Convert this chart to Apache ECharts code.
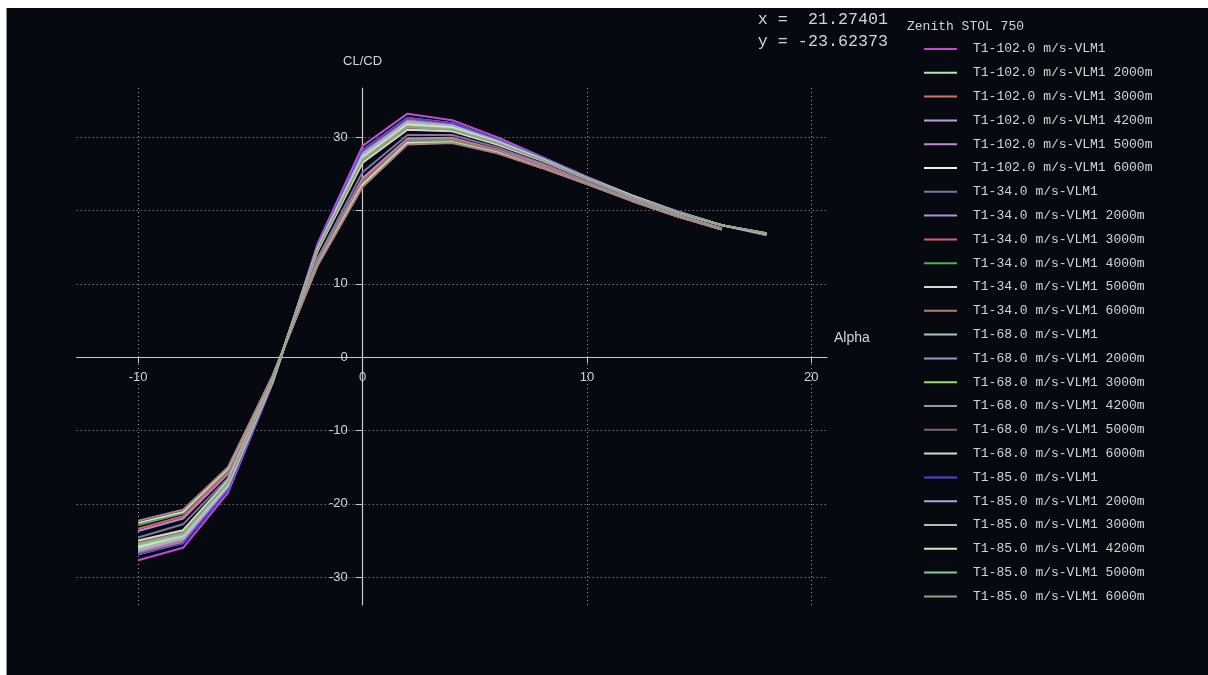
<!DOCTYPE html>
<html>
<head>
<meta charset="utf-8">
<script src="https://cdn.jsdelivr.net/npm/echarts@6/dist/echarts.min.js"></script>
<style>
  html, body { margin: 0; padding: 0; background: #ffffff; }
  #frame { position: absolute; left: 6px; top: 8px; width: 1202px; height: 667px; background: #060a10; border-left: 1px solid #8c9196; }
  #chart { position: absolute; left: 1px; top: 0; width: 1201px; height: 667px; }
</style>
</head>
<body>
<div id="frame"><div id="chart"></div></div>
<script>
// ---- data ----
const alpha = [-10, -8, -6, -4, -2, 0, 2, 4, 6, 8, 10, 12, 14, 16, 18];

const names102 = ["T1-102.0 m/s-VLM1", "T1-102.0 m/s-VLM1 2000m", "T1-102.0 m/s-VLM1 3000m", "T1-102.0 m/s-VLM1 4200m", "T1-102.0 m/s-VLM1 5000m", "T1-102.0 m/s-VLM1 6000m"];
const names34 = ["T1-34.0 m/s-VLM1", "T1-34.0 m/s-VLM1 2000m", "T1-34.0 m/s-VLM1 3000m", "T1-34.0 m/s-VLM1 4000m", "T1-34.0 m/s-VLM1 5000m", "T1-34.0 m/s-VLM1 6000m"];
const names68 = ["T1-68.0 m/s-VLM1", "T1-68.0 m/s-VLM1 2000m", "T1-68.0 m/s-VLM1 3000m", "T1-68.0 m/s-VLM1 4200m", "T1-68.0 m/s-VLM1 5000m", "T1-68.0 m/s-VLM1 6000m"];
const names85 = ["T1-85.0 m/s-VLM1", "T1-85.0 m/s-VLM1 2000m", "T1-85.0 m/s-VLM1 3000m", "T1-85.0 m/s-VLM1 4200m", "T1-85.0 m/s-VLM1 5000m", "T1-85.0 m/s-VLM1 6000m"];

const v102 = [
  [-27.7, -26.0, -18.5, -3.5, 15.5, 28.8, 33.2, 32.3, 30.0, 27.3, 24.6, 22.1, 19.9, 18.0, 16.6],
  [-26.9, -25.3, -18.0, -3.4, 15.2, 28.2, 32.6, 31.9, 29.7, 27.2, 24.5, 22.0, 19.9, 18.0, 16.7],
  [-26.6, -25.1, -17.8, -3.3, 15.1, 27.9, 32.3, 31.7, 29.6, 27.1, 24.5, 22.0, 19.9, 18.0, 16.7],
  [-26.3, -24.8, -17.6, -3.2, 15.0, 27.6, 32.1, 31.5, 29.5, 27.0, 24.4, 22.0, 19.8, 18.0, 16.8],
  [-26.1, -24.5, -17.5, -3.2, 14.9, 27.4, 31.9, 31.4, 29.4, 27.0, 24.4, 22.0, 19.8, 18.0, 16.8],
  [-25.8, -24.3, -17.3, -3.2, 14.8, 27.2, 31.7, 31.3, 29.3, 27.0, 24.4, 22.0, 19.8, 18.0, 16.8]
];
const v34 = [
  [-24.6, -22.8, -16.5, -2.8, 13.5, 25.2, 30.3, 30.3, 28.6, 26.4, 24.0, 21.6, 19.5, 17.6],
  [-23.7, -22.0, -15.9, -2.7, 13.1, 24.4, 29.8, 29.9, 28.3, 26.2, 23.8, 21.5, 19.4, 17.5],
  [-23.4, -21.7, -15.7, -2.6, 13.0, 24.1, 29.6, 29.7, 28.2, 26.1, 23.8, 21.4, 19.3, 17.5],
  [-22.9, -21.3, -15.4, -2.6, 12.8, 23.7, 29.4, 29.5, 28.0, 25.9, 23.7, 21.4, 19.3, 17.5],
  [-22.6, -21.1, -15.2, -2.5, 12.6, 23.5, 29.2, 29.3, 27.9, 25.8, 23.6, 21.3, 19.2, 17.4],
  [-22.3, -20.8, -15.0, -2.5, 12.5, 23.2, 29.0, 29.2, 27.8, 25.8, 23.6, 21.3, 19.2, 17.4]
];
const v68 = [
  [-26.3, -24.7, -17.6, -3.2, 15.0, 27.6, 32.0, 31.5, 29.5, 27.0, 24.4, 22.0, 19.8, 18.0, 16.8],
  [-25.8, -24.3, -17.3, -3.1, 14.8, 27.1, 31.6, 31.2, 29.3, 26.9, 24.4, 21.9, 19.8, 18.0, 16.8],
  [-25.5, -24.1, -17.1, -3.1, 14.7, 27.0, 31.4, 31.1, 29.2, 26.9, 24.4, 21.9, 19.8, 18.0, 16.8],
  [-25.3, -23.9, -17.0, -3.1, 14.6, 26.8, 31.3, 31.0, 29.1, 26.9, 24.3, 21.9, 19.8, 18.0, 16.9],
  [-25.2, -23.7, -16.9, -3.0, 14.6, 26.6, 31.1, 30.9, 29.1, 26.8, 24.3, 21.9, 19.8, 18.0, 16.9],
  [-25.0, -23.6, -16.8, -3.0, 14.5, 26.5, 31.0, 30.8, 29.0, 26.8, 24.3, 21.9, 19.8, 18.0, 16.9]
];
const v85 = [
  [-26.9, -25.4, -18.1, -3.4, 15.2, 28.2, 32.6, 31.9, 29.7, 27.2, 24.5, 22.0, 19.9, 18.0, 16.7],
  [-26.4, -24.8, -17.7, -3.3, 15.0, 27.7, 32.1, 31.6, 29.5, 27.1, 24.4, 22.0, 19.8, 18.0, 16.8],
  [-26.1, -24.6, -17.5, -3.2, 14.9, 27.4, 31.9, 31.4, 29.4, 27.0, 24.4, 22.0, 19.8, 18.0, 16.8],
  [-25.9, -24.3, -17.3, -3.2, 14.8, 27.2, 31.7, 31.3, 29.3, 27.0, 24.4, 22.0, 19.8, 18.0, 16.8],
  [-25.6, -24.2, -17.2, -3.1, 14.7, 27.0, 31.5, 31.1, 29.2, 26.9, 24.4, 21.9, 19.8, 18.0, 16.8],
  [-25.4, -24.0, -17.1, -3.1, 14.7, 26.9, 31.4, 31.0, 29.2, 26.9, 24.3, 21.9, 19.8, 18.0, 16.9]
];

const colors102 = ["#c848d0", "#b0e8b0", "#c87860", "#b8a0d8", "#c088d0", "#e8f4e8"];
const colors34 = ["#7878a0", "#b090d8", "#e05878", "#50b050", "#d8d8d8", "#a88088"];
const colors68 = ["#a8c8c0", "#9898c8", "#90e070", "#989898", "#806068", "#d8d8c8"];
const colors85 = ["#4848e0", "#a8a8e0", "#b8b8b8", "#d8e8b8", "#80c8a0", "#98a088"];

const xTicks = [-10, 0, 10, 20];
const yTicks = [-30, -20, -10, 0, 10, 20, 30];
const yLabels = [-30, -20, -10, 0, 10, 30];

const plotTitle = "Zenith STOL 750";
const cursorText = "x =  21.27401\ny = -23.62373";

// ---- build ----
const groups = [
  [names102, v102, colors102],
  [names34, v34, colors34],
  [names68, v68, colors68],
  [names85, v85, colors85]
];
const series = [];
const legendNames = [];
groups.forEach(([nm, vals, cols]) => {
  nm.forEach((n, i) => {
    legendNames.push(n);
    series.push({
      name: n,
      type: 'line',
      symbol: 'none',
      animation: false,
      color: cols[i],
      lineStyle: { color: cols[i], width: 2 },
      data: vals[i].map((v, k) => [alpha[k], v])
    });
  });
});

// axis-zero offsets (labels kept beside the crossing axes)
const gridBox = { left: 68.7, right: 382, top: 80, bottom: 70 };
const yAxisOffsetFromLeft = 354.8 - 68.7;   // distance grid-left -> x=0 line
const xAxisOffsetFromBottom = 597 - 349;    // distance grid-bottom -> y=0 line

const txt = '#d2d4d6';
const chart = echarts.init(document.getElementById('chart'), null, { renderer: 'canvas' });
chart.setOption({
  backgroundColor: '#060a10',
  animation: false,
  title: [
    { text: cursorText, right: 321, top: 1, padding: 0, textStyle: { color: txt, fontFamily: 'Liberation Mono', fontSize: 16.7, fontWeight: 'normal', lineHeight: 22 } },
    { text: plotTitle, left: 894, top: 7, textStyle: { color: txt, fontFamily: 'Liberation Mono', fontSize: 13, fontWeight: 'normal' } }
  ],
  legend: {
    data: legendNames,
    orient: 'vertical',
    left: 911,
    top: 29,
    icon: 'rect',
    itemWidth: 33,
    itemHeight: 2,
    itemGap: 9.8,
    selectedMode: false,
    textStyle: { color: txt, fontFamily: 'Liberation Mono', fontSize: 13, lineHeight: 14, padding: [0, 0, 0, 11] }
  },
  grid: Object.assign({ containLabel: false }, gridBox),
  xAxis: {
    type: 'value',
    min: -12.74, max: 20.7,
    splitNumber: 3,
    name: 'Alpha',
    nameLocation: 'end',
    nameGap: 7,
    nameTextStyle: { color: txt, fontFamily: 'Liberation Sans', fontSize: 14, align: 'left', verticalAlign: 'bottom', padding: [0, 0, 12, 0] },
    axisLine: { onZero: true, lineStyle: { color: '#c8cacc', width: 1.2 } },
    axisTick: { show: true, length: 6, customValues: xTicks, lineStyle: { color: '#c8cacc' } },
    axisLabel: { color: txt, fontFamily: 'Liberation Sans', fontSize: 13, margin: 14 - xAxisOffsetFromBottom, customValues: xTicks },
    splitLine: { show: true, lineStyle: { color: '#a0a4a8', type: [1, 3], width: 1 } }
  },
  yAxis: {
    type: 'value',
    min: -33.8, max: 36.7,
    splitNumber: 5,
    name: 'CL/CD',
    nameLocation: 'end',
    nameGap: 20,
    nameTextStyle: { color: txt, fontFamily: 'Liberation Sans', fontSize: 13 },
    axisLine: { onZero: true, lineStyle: { color: '#c8cacc', width: 1.2 } },
    axisTick: { show: true, length: 7, customValues: yTicks, lineStyle: { color: '#c8cacc' } },
    axisLabel: { color: txt, fontFamily: 'Liberation Sans', fontSize: 13, margin: 15 - yAxisOffsetFromLeft, customValues: yLabels },
    splitLine: { show: true, lineStyle: { color: '#a0a4a8', type: [1, 3], width: 1 } }
  },
  series: series
});
</script>
</body>
</html>
